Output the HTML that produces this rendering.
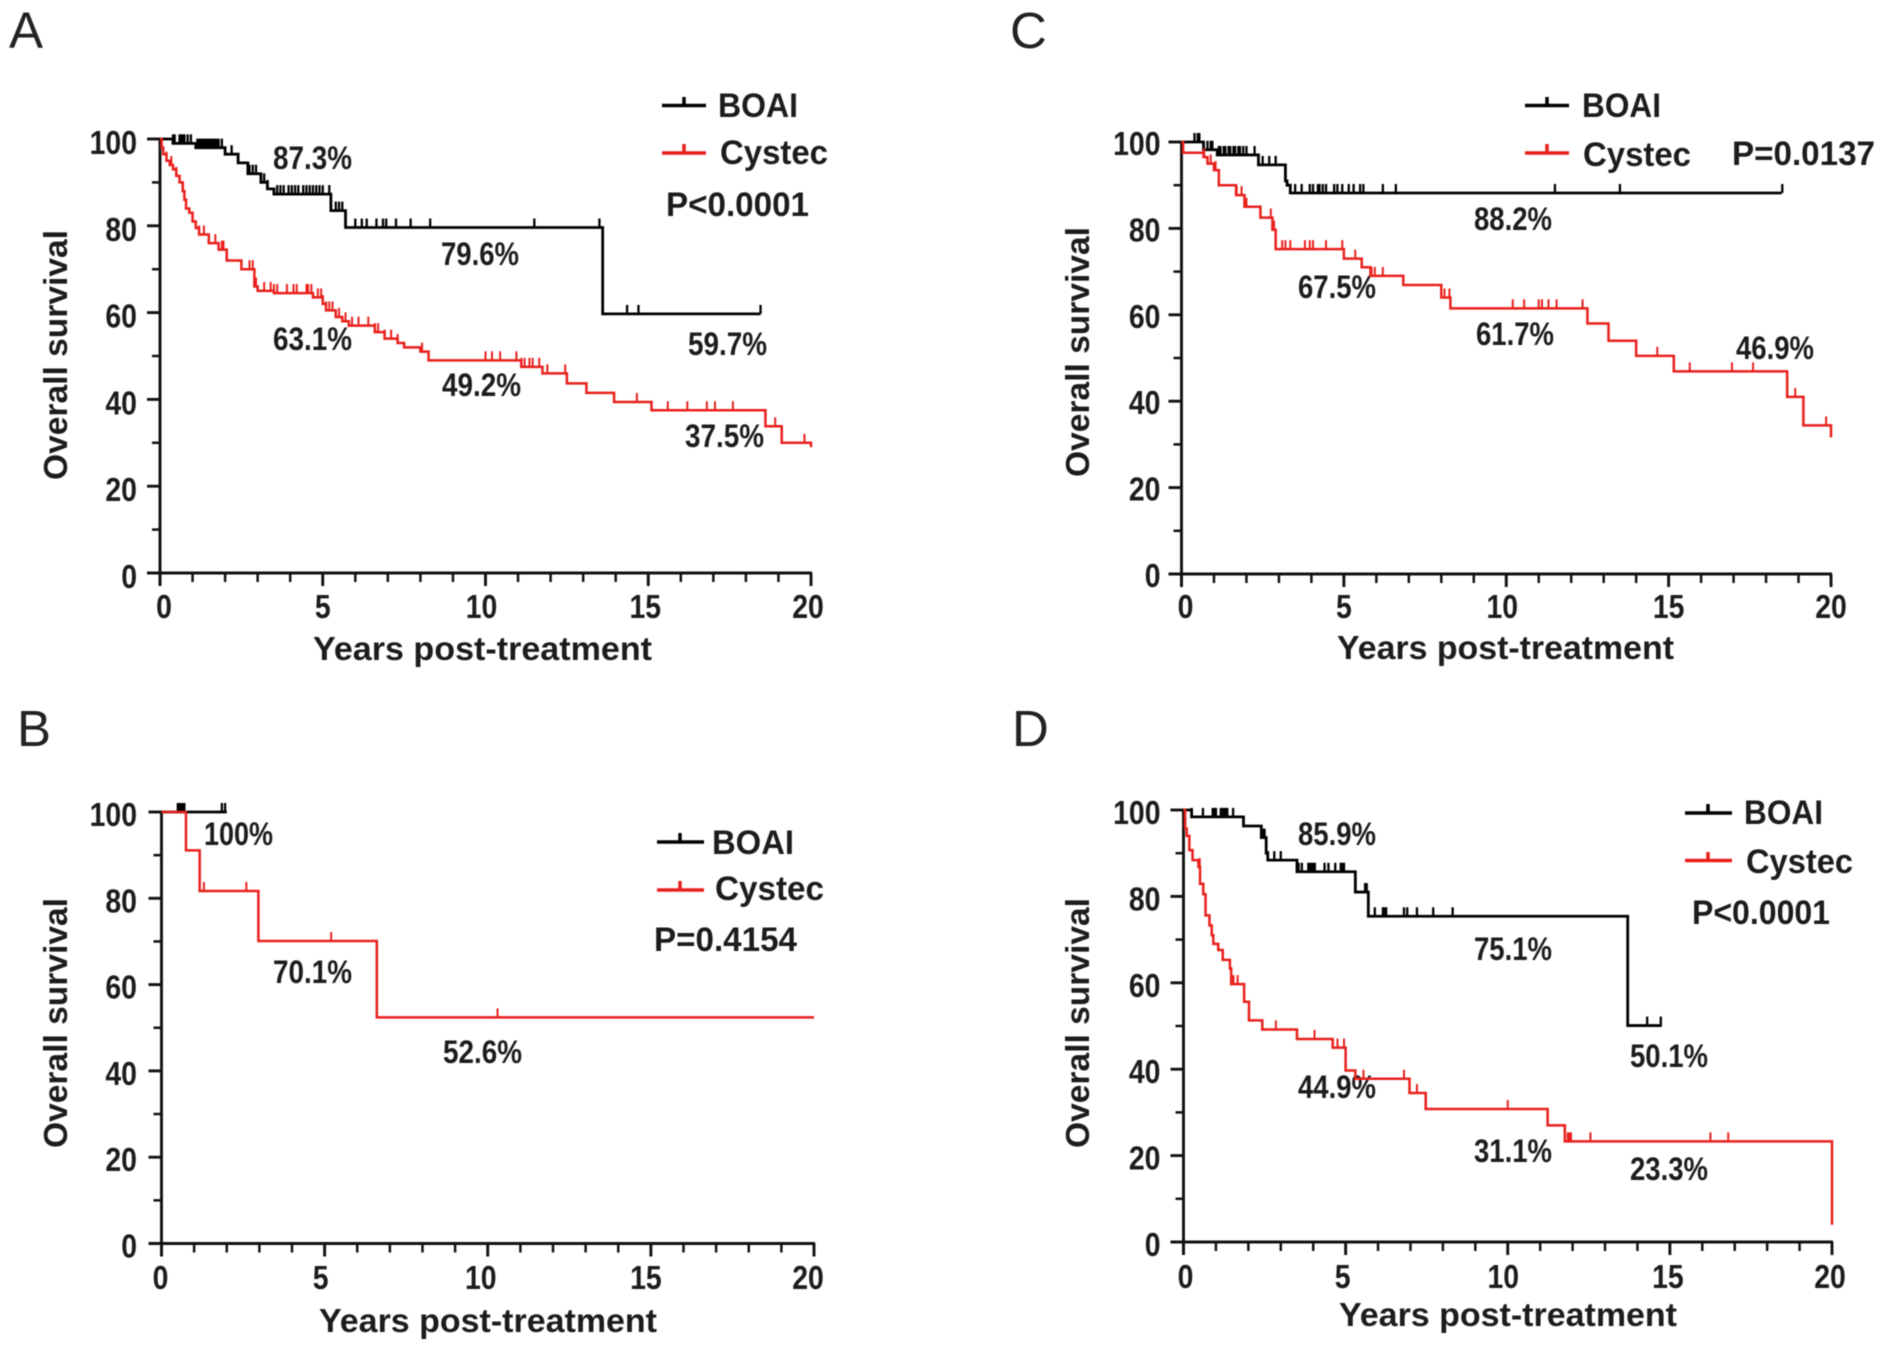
<!DOCTYPE html>
<html lang="en">
<head>
<meta charset="utf-8">
<title>Overall survival Kaplan-Meier curves</title>
<style>
html,body{margin:0;padding:0;background:#fff;}
svg{display:block;filter:blur(0.5px);}
text{font-family:"Liberation Sans",Arial,sans-serif;fill:#1c1c1c;}
.letter{font-size:51px;font-weight:normal;fill:#222;}
.pct{font-size:32px;font-weight:bold;}
.leg{font-size:34px;font-weight:bold;}
.title{font-size:33px;font-weight:bold;}
.tick{font-size:33px;font-weight:bold;}
</style>
</head>
<body>
<svg id="figure" xmlns="http://www.w3.org/2000/svg" width="1890" height="1345" viewBox="0 0 1890 1345">
  <rect x="0" y="0" width="1890" height="1345" fill="#fff"/>

  <g id="panel-a">
    <text class="letter" x="9" y="48">A</text>
    <text class="title" transform="translate(56,355) rotate(-90)" text-anchor="middle" textLength="250" lengthAdjust="spacingAndGlyphs" dy="11">Overall survival</text>
    <text class="title" x="313" y="660" textLength="339" lengthAdjust="spacingAndGlyphs">Years post-treatment</text>
    <g>
      <path d="M662 105.5H706M684 105.5V97" stroke="#000" stroke-width="3.5" fill="none"/>
      <text class="leg" x="718" y="117" textLength="80" lengthAdjust="spacingAndGlyphs">BOAI</text>
      <path d="M662 153H706M684 153V144" stroke="#e8201c" stroke-width="3.5" fill="none"/>
      <text class="leg" x="720" y="164" textLength="108" lengthAdjust="spacingAndGlyphs">Cystec</text>
    </g>
    <text class="leg" x="666" y="216" textLength="143" lengthAdjust="spacingAndGlyphs">P&lt;0.0001</text>
    <text class="pct" x="273" y="169" textLength="79" lengthAdjust="spacingAndGlyphs">87.3%</text>
    <text class="pct" x="441" y="265" textLength="78" lengthAdjust="spacingAndGlyphs">79.6%</text>
    <text class="pct" x="688" y="355" textLength="79" lengthAdjust="spacingAndGlyphs">59.7%</text>
    <text class="pct" x="273" y="350" textLength="79" lengthAdjust="spacingAndGlyphs">63.1%</text>
    <text class="pct" x="442" y="396" textLength="79" lengthAdjust="spacingAndGlyphs">49.2%</text>
    <text class="pct" x="685" y="447" textLength="79" lengthAdjust="spacingAndGlyphs">37.5%</text>
  </g>

  <g id="panel-b">
    <text class="letter" x="17" y="746">B</text>
    <text class="title" transform="translate(56,1023) rotate(-90)" text-anchor="middle" textLength="250" lengthAdjust="spacingAndGlyphs" dy="11">Overall survival</text>
    <text class="title" x="319" y="1332" textLength="338" lengthAdjust="spacingAndGlyphs">Years post-treatment</text>
    <g>
      <path d="M657 842H704M680 842V833" stroke="#000" stroke-width="3.5" fill="none"/>
      <text class="leg" x="712" y="854" textLength="82" lengthAdjust="spacingAndGlyphs">BOAI</text>
      <path d="M657 890H704M680 890V881" stroke="#e8201c" stroke-width="3.5" fill="none"/>
      <text class="leg" x="715" y="900" textLength="109" lengthAdjust="spacingAndGlyphs">Cystec</text>
    </g>
    <text class="leg" x="654" y="951" textLength="143" lengthAdjust="spacingAndGlyphs">P=0.4154</text>
    <text class="pct" x="204" y="845" textLength="69" lengthAdjust="spacingAndGlyphs">100%</text>
    <text class="pct" x="273" y="983" textLength="79" lengthAdjust="spacingAndGlyphs">70.1%</text>
    <text class="pct" x="443" y="1063" textLength="79" lengthAdjust="spacingAndGlyphs">52.6%</text>
  </g>

  <g id="panel-c">
    <text class="letter" x="1010" y="48">C</text>
    <text class="title" transform="translate(1078,352) rotate(-90)" text-anchor="middle" textLength="250" lengthAdjust="spacingAndGlyphs" dy="11">Overall survival</text>
    <text class="title" x="1337" y="659" textLength="337" lengthAdjust="spacingAndGlyphs">Years post-treatment</text>
    <g>
      <path d="M1525 105.500H1569M1547 105.500V97" stroke="#000" stroke-width="3.5" fill="none"/>
      <text class="leg" x="1582" y="117" textLength="79" lengthAdjust="spacingAndGlyphs">BOAI</text>
      <path d="M1525 153H1569M1547 153V144" stroke="#e8201c" stroke-width="3.5" fill="none"/>
      <text class="leg" x="1583" y="166" textLength="108" lengthAdjust="spacingAndGlyphs">Cystec</text>
    </g>
    <text class="leg" x="1732" y="165" textLength="143" lengthAdjust="spacingAndGlyphs">P=0.0137</text>
    <text class="pct" x="1474" y="230" textLength="78" lengthAdjust="spacingAndGlyphs">88.2%</text>
    <text class="pct" x="1298" y="298" textLength="78" lengthAdjust="spacingAndGlyphs">67.5%</text>
    <text class="pct" x="1476" y="345" textLength="78" lengthAdjust="spacingAndGlyphs">61.7%</text>
    <text class="pct" x="1736" y="359" textLength="78" lengthAdjust="spacingAndGlyphs">46.9%</text>
  </g>

  <g id="panel-d">
    <text class="letter" x="1012" y="746">D</text>
    <text class="title" transform="translate(1078,1023) rotate(-90)" text-anchor="middle" textLength="250" lengthAdjust="spacingAndGlyphs" dy="11">Overall survival</text>
    <text class="title" x="1339" y="1326" textLength="338" lengthAdjust="spacingAndGlyphs">Years post-treatment</text>
    <g>
      <path d="M1685 813H1732M1708 813V804" stroke="#000" stroke-width="3.5" fill="none"/>
      <text class="leg" x="1744" y="824" textLength="79" lengthAdjust="spacingAndGlyphs">BOAI</text>
      <path d="M1685 860.500H1732M1708 860.500V852" stroke="#e8201c" stroke-width="3.5" fill="none"/>
      <text class="leg" x="1746" y="873" textLength="107" lengthAdjust="spacingAndGlyphs">Cystec</text>
    </g>
    <text class="leg" x="1692" y="924" textLength="138" lengthAdjust="spacingAndGlyphs">P&lt;0.0001</text>
    <text class="pct" x="1298" y="845" textLength="78" lengthAdjust="spacingAndGlyphs">85.9%</text>
    <text class="pct" x="1474" y="960" textLength="78" lengthAdjust="spacingAndGlyphs">75.1%</text>
    <text class="pct" x="1630" y="1067" textLength="78" lengthAdjust="spacingAndGlyphs">50.1%</text>
    <text class="pct" x="1298" y="1098" textLength="78" lengthAdjust="spacingAndGlyphs">44.9%</text>
    <text class="pct" x="1474" y="1162" textLength="78" lengthAdjust="spacingAndGlyphs">31.1%</text>
    <text class="pct" x="1630" y="1180" textLength="78" lengthAdjust="spacingAndGlyphs">23.3%</text>
  </g>
</svg>

<script>
// Axis tick values and labels
const xTickValues = [0, 5, 10, 15, 20];
const xTickLabels = ["0", "5", "10", "15", "20"];
const xMinorTicks = [1, 2, 3, 4, 6, 7, 8, 9, 11, 12, 13, 14, 16, 17, 18, 19];
const yTickValues = [0, 20, 40, 60, 80, 100];
const yTickLabels = ["0", "20", "40", "60", "80", "100"];
const yMinorTicks = [10, 30, 50, 70, 90];

// Panel A
const aBoaiTimes = [0, 0.4, 1.1, 2.0, 2.4, 2.7, 3.1, 3.3, 3.5, 5.25, 5.7, 13.6, 18.45];
const aBoaiSurvival = [100, 99, 98, 96.5, 94.5, 92, 90, 88.5, 87.3, 83.5, 79.6, 59.7, 59.7];
const aBoaiCensored = [0.4, 0.45, 0.6, 0.65, 0.7, 0.75, 0.85, 0.95, 1.15, 1.2, 1.25, 1.3, 1.35, 1.4, 1.45, 1.5, 1.55, 1.6, 1.65, 1.7, 1.75, 1.8, 1.9, 2.2, 2.4, 2.75, 2.85, 2.95, 3.1, 3.2, 3.3, 3.6, 3.7, 3.8, 3.95, 4.05, 4.15, 4.25, 4.4, 4.5, 4.6, 4.7, 4.8, 4.9, 5.0, 5.2, 5.4, 5.5, 5.6, 6.0, 6.2, 6.35, 6.65, 6.85, 6.95, 7.25, 7.7, 8.3, 11.5, 13.5, 14.35, 14.7, 18.45];
const aCystecTimes = [0, 0.05, 0.1, 0.2, 0.3, 0.4, 0.5, 0.6, 0.7, 0.75, 0.8, 0.9, 1.0, 1.1, 1.2, 1.5, 1.8, 2.05, 2.5, 2.9, 3.0, 3.5, 4.7, 5.0, 5.1, 5.4, 5.6, 5.8, 6.6, 6.9, 7.3, 7.5, 8.0, 8.25, 11.1, 11.75, 12.5, 13.1, 13.95, 15.1, 18.6, 19.1, 20];
const aCystecSurvival = [100, 98, 96.5, 95, 94, 93, 91.5, 90, 88, 86, 84, 83, 81, 79.5, 78, 76, 74.5, 72, 70, 66, 65, 64.5, 63.5, 62, 60.5, 59, 58, 57, 55.5, 54, 53, 52, 51, 49, 47.5, 46, 43.7, 41.5, 39.4, 37.5, 33.8, 30, 29];
const aCystecCensored = [0.2, 0.35, 0.5, 1.2, 1.35, 1.5, 1.7, 1.9, 1.95, 2.05, 2.75, 2.85, 2.95, 3.2, 3.4, 3.5, 3.6, 3.9, 4.1, 4.2, 4.5, 4.55, 4.65, 4.85, 4.95, 5.0, 5.1, 5.2, 5.3, 5.5, 5.7, 5.9, 6.1, 6.4, 6.6, 6.7, 6.9, 7.1, 7.3, 8.05, 8.25, 10.0, 10.2, 10.45, 10.95, 11.1, 11.2, 11.35, 11.45, 11.65, 11.9, 12.45, 14.65, 15.6, 16.2, 16.8, 17.05, 17.6, 18.9, 19.8];

// Panel B
const bBoaiTimes = [0, 2.0];
const bBoaiSurvival = [100, 100];
const bBoaiCensored = [0.5, 0.55, 0.6, 0.65, 0.7, 1.85, 1.95];
const bCystecTimes = [0, 0.75, 1.17, 2.97, 6.6, 20];
const bCystecSurvival = [100, 91.1, 81.7, 70.1, 52.4, 52.4];
const bCystecCensored = [1.3, 2.6, 5.2, 10.3];

// Panel C
const cBoaiTimes = [0, 0.68, 1.1, 2.37, 3.2, 3.25, 3.35, 18.48];
const cBoaiSurvival = [100, 98.2, 97, 94.7, 91, 90, 88.2, 88.2];
const cBoaiCensored = [0.4, 0.5, 0.55, 0.8, 0.9, 0.95, 1.15, 1.2, 1.3, 1.35, 1.45, 1.5, 1.6, 1.65, 1.75, 1.8, 1.9, 2.0, 2.25, 2.5, 2.7, 2.9, 3.2, 3.35, 3.5, 3.7, 3.95, 4.05, 4.2, 4.25, 4.35, 4.45, 4.7, 4.8, 4.95, 5.15, 5.3, 5.5, 5.6, 6.2, 6.6, 11.5, 13.5, 18.5];
const cCystecTimes = [0, 0.05, 0.68, 0.8, 1.0, 1.15, 1.68, 1.94, 2.43, 2.8, 2.9, 5.0, 5.55, 5.82, 6.83, 8.0, 8.28, 12.5, 13.15, 14.0, 15.16, 18.65, 19.15, 20, 20];
const cCystecSurvival = [100, 97.5, 96.5, 95, 93.5, 90, 87.7, 85, 82.5, 79.7, 75.2, 73, 71, 69, 66.9, 64, 61.5, 58, 54, 50.5, 46.9, 41, 34.4, 34.4, 31.6];
const cCystecCensored = [0.7, 0.9, 1.05, 1.7, 1.85, 2.0, 2.75, 2.85, 3.1, 3.2, 3.35, 3.8, 3.95, 4.05, 4.45, 4.95, 5.35, 5.85, 5.95, 6.2, 8.1, 8.25, 10.2, 10.55, 11.0, 11.1, 11.3, 11.55, 12.35, 14.65, 15.65, 16.95, 17.6, 18.9, 19.85];

// Panel D
const dBoaiTimes = [0, 0.25, 1.85, 2.4, 2.55, 2.6, 3.5, 5.3, 5.7, 13.7, 14.75];
const dBoaiSurvival = [100, 98.4, 96.3, 93.6, 90, 88.4, 85.7, 81, 75.4, 50.1, 50.1];
const dBoaiCensored = [0.25, 0.6, 0.9, 0.95, 1.0, 1.15, 1.2, 1.25, 1.3, 1.35, 1.53, 2.45, 2.5, 2.55, 2.6, 2.8, 3.0, 3.55, 3.65, 3.85, 3.9, 3.95, 4.0, 4.05, 4.35, 4.47, 4.68, 4.85, 4.9, 4.95, 5.3, 5.6, 5.65, 5.9, 6.15, 6.2, 6.25, 6.8, 6.9, 7.2, 7.7, 8.3, 14.3, 14.72];
const dCystecTimes = [0, 0.05, 0.1, 0.18, 0.28, 0.46, 0.51, 0.61, 0.68, 0.8, 0.87, 0.92, 1.07, 1.21, 1.43, 1.47, 1.87, 2.02, 2.43, 3.5, 4.6, 5.0, 5.3, 6.97, 7.47, 11.23, 11.76, 20, 20];
const dCystecSurvival = [100, 95.7, 94, 90.7, 88.4, 86.8, 82.9, 80.5, 75.6, 73.3, 71, 69, 67.6, 65.3, 63.3, 59.7, 55.6, 51.3, 49.2, 47, 45, 39.7, 37.8, 34.5, 30.8, 27, 23.3, 23.3, 4];
const dCystecCensored = [0.05, 0.5, 1.54, 1.67, 2.85, 4.04, 4.6, 4.75, 4.95, 5.55, 6.8, 7.2, 10.0, 11.85, 11.9, 11.95, 12.55, 16.25, 16.8];

const SVG_NS = "http://www.w3.org/2000/svg";

// Layout only: where each panel's axes sit on the canvas.
const panelLayouts = {
  a: { left: 160, right: 811, bottom: 573, top: 139, xLabelBase: 618, yLabelGap: 23, yLabelDy: 15, xNudge: [4, 0, -4, -3, -3] },
  b: { left: 161.5, right: 814, bottom: 1243.5, top: 812, xLabelBase: 1289, yLabelGap: 24.5, yLabelDy: 14, xNudge: [-1, -4, -7, -5, -6] },
  c: { left: 1181.5, right: 1831, bottom: 574, top: 142, xLabelBase: 618, yLabelGap: 21, yLabelDy: 13, xNudge: [4, 0, -4, 0, 0] },
  d: { left: 1183.5, right: 1832, bottom: 1242, top: 810, xLabelBase: 1288, yLabelGap: 23, yLabelDy: 14, xNudge: [2, -3, -4.5, -2, -2] }
};

function xScale(layout, t) {
  return layout.left + (t / 20) * (layout.right - layout.left);
}
function yScale(layout, v) {
  return layout.bottom - (v / 100) * (layout.bottom - layout.top);
}
function survivalAt(times, survival, t) {
  let current = survival[0];
  for (let i = 0; i < times.length; i++) {
    if (times[i] <= t) current = survival[i];
  }
  return current;
}
function makeLine(x1, y1, x2, y2, color, width) {
  const el = document.createElementNS(SVG_NS, "line");
  el.setAttribute("x1", x1);
  el.setAttribute("y1", y1);
  el.setAttribute("x2", x2);
  el.setAttribute("y2", y2);
  el.setAttribute("stroke", color);
  el.setAttribute("stroke-width", width);
  return el;
}

function drawAxes(group, layout) {
  const xAxis = makeLine(layout.left - 13, layout.bottom, layout.right + 1, layout.bottom, "#111", 2.9);
  
  
  group.appendChild(xAxis);

  const yAxis = makeLine(layout.left, layout.top - 1, layout.left, layout.bottom + 13, "#111", 2.9);
  
  
  group.appendChild(yAxis);

  xTickValues.forEach(function (value, i) {
    const x = xScale(layout, value);
    const tick = makeLine(x, layout.bottom, x, layout.bottom + 13, "#111", 2.9);
    
    
    group.appendChild(tick);

    const label = document.createElementNS(SVG_NS, "text");
    label.setAttribute("class", "tick");
    label.setAttribute("x", x + layout.xNudge[i]);
    label.setAttribute("y", layout.xLabelBase);
    label.setAttribute("text-anchor", "middle");
    label.setAttribute("textLength", xTickLabels[i].length * 15.8);
    label.setAttribute("lengthAdjust", "spacingAndGlyphs");
    
    
    label.textContent = xTickLabels[i];
    group.appendChild(label);
  });

  xMinorTicks.forEach(function (value) {
    const x = xScale(layout, value);
    const tick = makeLine(x, layout.bottom, x, layout.bottom + 9, "#111", 2.5);
    
    
    group.appendChild(tick);
  });

  yTickValues.forEach(function (value, i) {
    const y = yScale(layout, value);
    const tick = makeLine(layout.left - 13, y, layout.left, y, "#111", 2.9);
    
    
    group.appendChild(tick);

    const label = document.createElementNS(SVG_NS, "text");
    label.setAttribute("class", "tick");
    label.setAttribute("x", layout.left - layout.yLabelGap);
    label.setAttribute("y", y + layout.yLabelDy);
    label.setAttribute("text-anchor", "end");
    label.setAttribute("textLength", yTickLabels[i].length * 15.8);
    label.setAttribute("lengthAdjust", "spacingAndGlyphs");
    
    
    label.textContent = yTickLabels[i];
    group.appendChild(label);
  });

  yMinorTicks.forEach(function (value) {
    const y = yScale(layout, value);
    const tick = makeLine(layout.left - 8, y, layout.left, y, "#111", 2.5);
    
    
    group.appendChild(tick);
  });
}

function drawSeries(group, layout, times, survival, censored, color, width, markWidth, seriesName) {
  let d = "M" + xScale(layout, times[0]) + " " + yScale(layout, survival[0]);
  for (let i = 1; i < times.length; i++) {
    d += "H" + xScale(layout, times[i]) + "V" + yScale(layout, survival[i]);
  }
  const path = document.createElementNS(SVG_NS, "path");
  path.setAttribute("d", d);
  path.setAttribute("fill", "none");
  path.setAttribute("stroke", color);
  path.setAttribute("stroke-width", width);
  
  
  group.appendChild(path);

  censored.forEach(function (t) {
    const x = xScale(layout, t);
    const y = yScale(layout, survivalAt(times, survival, t));
    const mark = makeLine(x, y, x, y - 9, color, markWidth);
    
    
    group.appendChild(mark);
  });
}

function drawPanel(id, boai, cystec) {
  const group = document.getElementById("panel-" + id);
  const layout = panelLayouts[id];
  drawAxes(group, layout);
  drawSeries(group, layout, boai[0], boai[1], boai[2], "#000", 2.8, 2.3, "boai");
  drawSeries(group, layout, cystec[0], cystec[1], cystec[2], "#e8201c", 2.5, 2, "cystec");
}

drawPanel("a", [aBoaiTimes, aBoaiSurvival, aBoaiCensored], [aCystecTimes, aCystecSurvival, aCystecCensored]);
drawPanel("b", [bBoaiTimes, bBoaiSurvival, bBoaiCensored], [bCystecTimes, bCystecSurvival, bCystecCensored]);
drawPanel("c", [cBoaiTimes, cBoaiSurvival, cBoaiCensored], [cCystecTimes, cCystecSurvival, cCystecCensored]);
drawPanel("d", [dBoaiTimes, dBoaiSurvival, dBoaiCensored], [dCystecTimes, dCystecSurvival, dCystecCensored]);
</script>
</body>
</html>
